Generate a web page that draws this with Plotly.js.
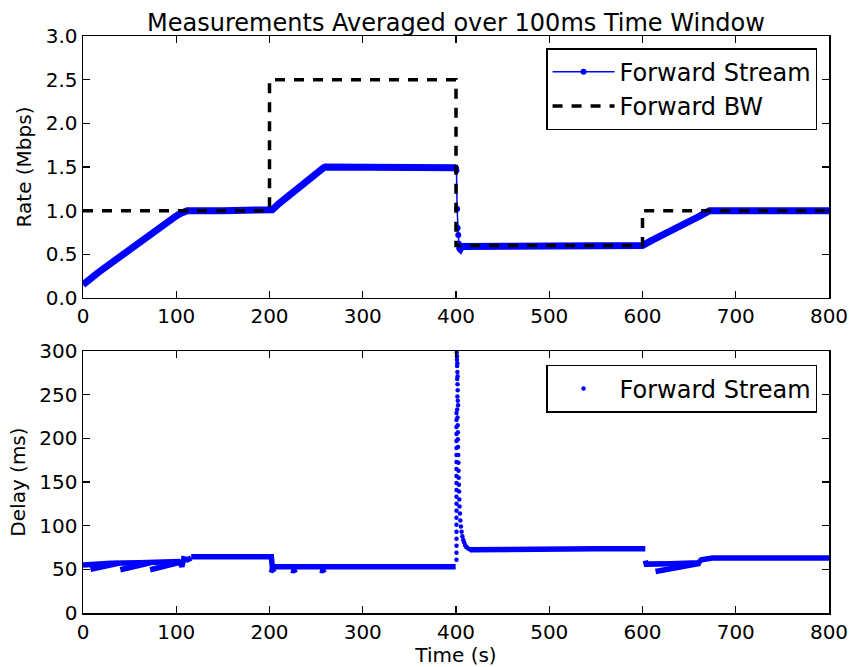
<!DOCTYPE html>
<html>
<head>
<meta charset="utf-8">
<script src="https://cdn.plot.ly/plotly-3.0.1.min.js"></script>
<style>html,body{margin:0;padding:0;background:#fff}#chart{width:850px;height:667px}</style>
</head>
<body>
<div id="chart"></div>
<script>
// ---- Top panel: rate (Mbps) ----
var rateT = [0,5,10,15,20,25,30,35,40,45,50,55,60,65,70,75,80,85,90,95,100,105,110,112,150,200,203,210,220,230,240,250,258,260,300,350,399.8,null,403.5,404.5,406,450,500,550,599,600,610,620,630,640,650,660,665,670,672,700,750,800];
var rateV = [0.15,0.20,0.24,0.28,0.32,0.36,0.40,0.44,0.48,0.52,0.55,0.59,0.63,0.66,0.70,0.74,0.79,0.84,0.88,0.91,0.94,0.97,0.99,1.0,1.0,1.0,1.01,1.08,1.17,1.26,1.35,1.43,1.49,1.5,1.5,1.5,1.49,null,0.57,0.56,0.59,0.59,0.59,0.59,0.59,0.60,0.66,0.71,0.77,0.82,0.87,0.93,0.96,0.99,1.0,1.0,1.0,1.0];
var rateDropT = [399.8,400.1,400.5,401.2,401.8,402.4,403.0,403.5];
var rateDropV = [1.49,1.48,1.46,1.02,0.80,0.72,0.62,0.57];
var bwT = [0,200,400,600,800];
var bwV = [1.0,2.5,0.6,1.0,1.0];

// ---- Bottom panel: delay (ms) ----
var delayBandT = [0,10,30,60,90,104,null, 8,22,38,null, 40,56,72,null, 72,90,106,null, 104,106,108,112,116,null, 116,150,200,202,203,230,300,350,399.6,null, 200,203,206,null, 223,226,229,null, 254,257,260,null, 415,450,500,550,600,603,null, 603,604,630,660,663,668,675,700,750,800,null, 614,640,662];
var delayBandMs = [55,56,57,57.5,58.5,59,null, 50,53.5,57,null, 49.5,53.5,57.5,null, 49.5,54,58.5,null, 59,53,62,61,63,null, 64.5,64.5,64.5,64.5,53,53,53,53,53,null, 50,49,51,null, 49,48.5,50,null, 49,48.5,50,null, 72.5,73,73,73.5,73.5,73.5,null, 60,56,56.5,57.5,61,62,63,63,63,63,null, 47.5,52,57];
var spikeT = [400.5,400.5,400.5,400.5,400.5,400.5,400.5,400.5,400.5,400.5,400.5,400.5,400.5,400.5,400.5,400.5,400.5,400.5,400.5,400.5,400.5,400.5,
  400.8,401.0,401.2,401.5,401.3,401.6,401.8,401.5,401.9,402.2,401.0,401.4,401.7,
  401.3,401.6,401.8,402.0,402.0,402.2,402.4,402.6,402.7,402.9,403.1,403.3,403.6,403.8,404.2,404.7,405.3,406.0,406.8,407.7,408.7,409.7,410.7,411.8,413.0,414.5,416.0];
var spikeMs = [61,69,77,85,93,101,109,117,125,133,141,149,157,165,173,181,189,197,205,213,221,229,
  298,290,283,276,268,262,255,248,243,238,294,286,271,
  233,224,215,207,199,190,181,172,163,155,147,139,130,122,114,106,99,93,88,84,81,78,76,75,74,73,72.5];

var blue = '#0000ff';
var F = 'DejaVu Sans, sans-serif';

var traces = [
  {x: rateT, y: rateV, xaxis:'x', yaxis:'y', mode:'lines', line:{color:blue, width:7}, showlegend:false, hoverinfo:'skip'},
  {x: rateDropT, y: rateDropV, xaxis:'x', yaxis:'y', mode:'lines+markers', name:'Forward Stream', line:{color:blue, width:1.5}, marker:{color:blue, size:6}, legend:'legend'},
  {x: bwT, y: bwV, xaxis:'x', yaxis:'y', mode:'lines', name:'Forward BW', line:{color:'#000', width:3.5, dash:'10px,9px', shape:'hv'}, legend:'legend'},
  {x: delayBandT, y: delayBandMs, xaxis:'x2', yaxis:'y2', mode:'lines', line:{color:blue, width:5.5}, showlegend:false, hoverinfo:'skip', connectgaps:false},
  {x: spikeT, y: spikeMs, xaxis:'x2', yaxis:'y2', mode:'markers', name:'Forward Stream', marker:{color:blue, size:4.5}, legend:'legend2'}
];

var axBase = {
  showline:true, linecolor:'#000', linewidth:1.5, mirror:'ticks',
  ticks:'inside', ticklen:7, tickwidth:1.2, tickcolor:'#000',
  showgrid:false, zeroline:false,
  tickfont:{family:F, size:20, color:'#000'}
};

var layout = {
  width:850, height:667,
  margin:{l:83, r:21, t:36, b:54},
  paper_bgcolor:'#fff', plot_bgcolor:'#fff',
  font:{family:F, color:'#000'},
  title:{text:'Measurements Averaged over 100ms Time Window', font:{family:F, size:24, color:'#000'},
         x:0.5, xref:'paper', y:1, yref:'paper', yanchor:'bottom', pad:{b:5}},
  xaxis: Object.assign({}, axBase, {range:[0,800], dtick:100, anchor:'y'}),
  yaxis: Object.assign({}, axBase, {range:[0,3], dtick:0.5, tickformat:'.1f', domain:[0.546,1], anchor:'x',
         title:{text:'Rate (Mbps)', font:{family:F, size:20, color:'#000'}, standoff:8}}),
  xaxis2: Object.assign({}, axBase, {range:[0,800], dtick:100, anchor:'y2',
         title:{text:'Time (s)', font:{family:F, size:20, color:'#000'}, standoff:4}}),
  yaxis2: Object.assign({}, axBase, {range:[0,300], dtick:50, domain:[0,0.454], anchor:'x2',
         title:{text:'Delay (ms)', font:{family:F, size:20, color:'#000'}, standoff:8}}),
  legend:{x:0.984, xanchor:'right', y:0.979, yanchor:'top', bgcolor:'#fff', bordercolor:'#000', borderwidth:1.5,
          font:{family:F, size:24, color:'#000'}, itemwidth:62, traceorder:'normal'},
  legend2:{x:0.984, xanchor:'right', y:0.43, yanchor:'top', bgcolor:'#fff', bordercolor:'#000', borderwidth:1.5,
          font:{family:F, size:24, color:'#000'}, itemwidth:62},
  showlegend:true
};

Plotly.newPlot('chart', traces, layout, {displayModeBar:false, staticPlot:true});
</script>
</body>
</html>
